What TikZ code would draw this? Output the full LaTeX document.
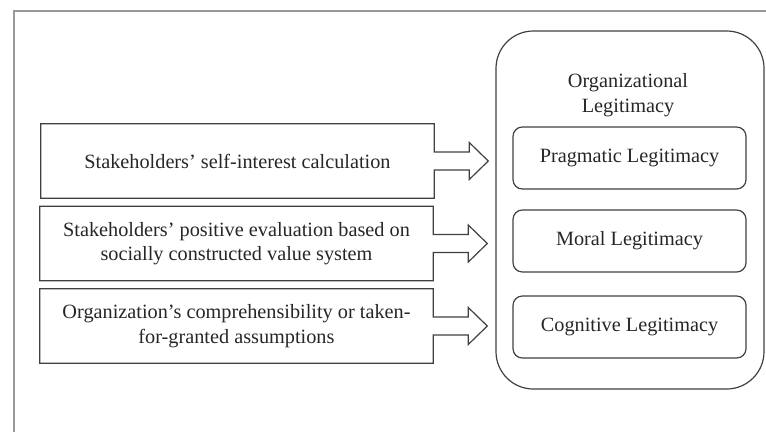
\documentclass[tikz,border=0pt]{standalone}
\usepackage{fontspec}
\setmainfont{Liberation Serif}
\usetikzlibrary{calc}
\begin{document}
\begin{tikzpicture}[x=0.75pt,y=-0.75pt,
  every node/.style={font=\fontsize{15.2}{18.5}\selectfont, text=black!85},
  boxline/.style={draw=black!75, line width=0.9pt, line join=miter},
  srcbox/.style={draw=none, minimum width=393*0.75pt, minimum height=74*0.75pt, align=center, inner sep=0pt},
  innerbox/.style={draw=black!75, line width=0.9pt, rounded corners=7pt, minimum width=233*0.75pt, minimum height=62*0.75pt, inner sep=0pt},
  outerbox/.style={draw=black!75, line width=0.9pt, rounded corners=28pt, minimum width=268*0.75pt, minimum height=358*0.75pt, inner sep=0pt}
]
\useasboundingbox (0,0) rectangle (766,432);
% frame
\draw[black!40, line width=1.2pt] (14,432) -- (14,11) -- (766,11);

% source boxes
\node[srcbox] (s1) at (237.5,161) {Stakeholders’ self-interest calculation};
\node[srcbox] (s2) at (236.5,243.5) {Stakeholders’ positive evaluation based on\\socially constructed value system};
\node[srcbox] (s3) at (236.5,326) {Organization’s comprehensibility or taken-\\for-granted assumptions};

\foreach \s in {s1,s2,s3}{
  \draw[boxline]
    (\s.north west) -- (\s.north east)
    -- ($(\s.east)+(0,-9)$) -- ($(\s.east)+(35,-9)$) -- ($(\s.east)+(35,-18.5)$)
    -- ($(\s.east)+(54,0)$)
    -- ($(\s.east)+(35,18.5)$) -- ($(\s.east)+(35,9)$) -- ($(\s.east)+(0,9)$)
    -- (\s.south east) -- (\s.south west) -- cycle;
}

% organizational legitimacy
\node[outerbox] (org) at (630,210) {};
\node[align=center, inner sep=0pt] (title) at (628,95) {Organizational\\Legitimacy};
\node[innerbox] (prag) at (629.5,158) {Pragmatic Legitimacy};
\node[innerbox] (moral) at (629.5,241) {Moral Legitimacy};
\node[innerbox] (cog) at (629.5,327) {Cognitive Legitimacy};
\end{tikzpicture}
\end{document}
